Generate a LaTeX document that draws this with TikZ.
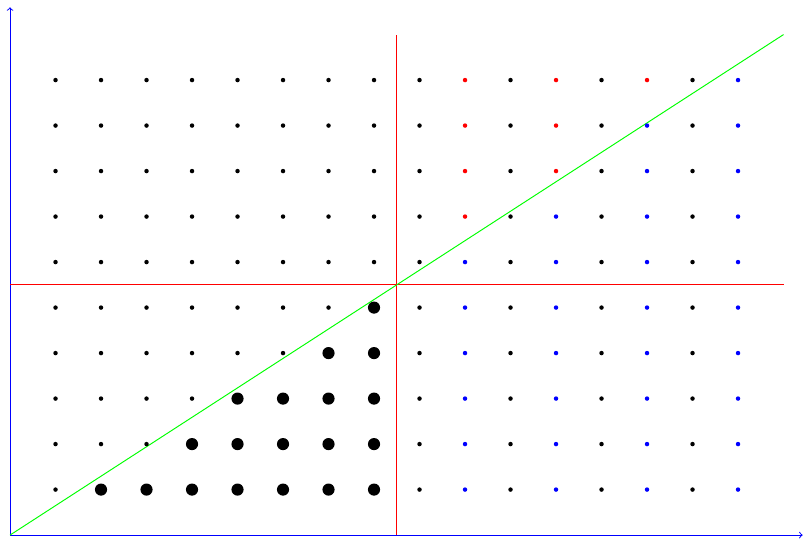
\documentclass[tikz,border=0pt]{standalone}
\usepackage{xcolor}
\begin{document}
\begin{tikzpicture}[semithick,
    dot/.style={circle, fill, inner sep=0pt, minimum size=2.8pt},
    bigdot/.style={circle, fill, inner sep=0pt, minimum size=7.6pt}]
      \useasboundingbox (-0.22,-0.11) rectangle (17.45,11.76);
      \coordinate (o) at (0, 0);
      \coordinate (xtip) at (17.42, 0);
      \coordinate (ytip) at (0, 11.6);
      \coordinate (vbot) at (8.5, 0);
      \coordinate (vtop) at (8.5, 11);
      \coordinate (hleft) at (0, 5.5);
      \coordinate (hright) at (17, 5.5);
      \coordinate (diag) at (17, 11);
      \draw[->, blue] (o) -- (xtip);
      \draw[->, blue] (o) -- (ytip);
      \draw[red] (vbot) -- (vtop);
      \draw[red] (hleft) -- (hright);
      \draw[green] (o) -- (diag);
      % lattice points
      \foreach \x in {1,...,16}{
        \foreach \y in {1,...,10}{
          \pgfmathtruncatemacro{\under}{(17*\y<=11*\x) ? 1 : 0}
          \pgfmathtruncatemacro{\big}{((\x<=8) && (\y<=5) && (\under==1)) ? 1 : 0}
          \pgfmathtruncatemacro{\even}{((\x>=10) && (mod(\x,2)==0)) ? 1 : 0}
          \ifnum\big=1
            \node[bigdot] (p\x-\y) at (\x, \y) {};
          \else\ifnum\even=1
            \ifnum\under=1
              \node[dot, fill=blue] (p\x-\y) at (\x, \y) {};
            \else
              \node[dot, fill=red] (p\x-\y) at (\x, \y) {};
            \fi
          \else
            \node[dot] (p\x-\y) at (\x, \y) {};
          \fi\fi
        }
      }
    \end{tikzpicture}
\end{document}
